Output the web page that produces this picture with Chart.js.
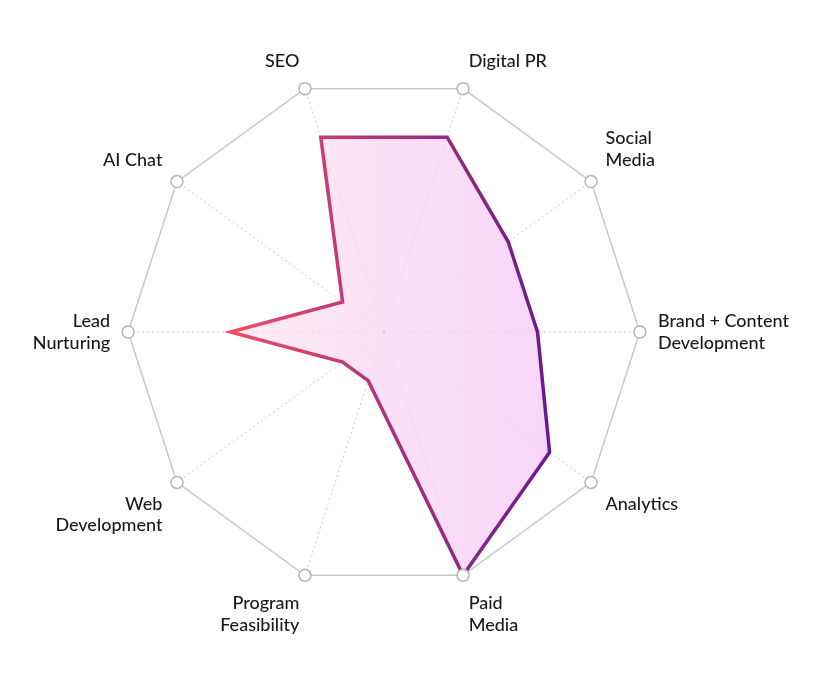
<!DOCTYPE html>
<html>
<head>
<meta charset="utf-8">
<script src="https://cdn.jsdelivr.net/npm/chart.js@4"></script>
<style>
  html, body { margin: 0; padding: 0; background: #fff; }
  #wrap { width: 840px; height: 688px; }
</style>
</head>
<body>
<div id="wrap"><canvas id="radar"></canvas></div>
<script>
// categories clockwise, starting from Digital PR
const categories = [
    'Digital PR',
    ['Social', 'Media'],
    ['Brand + Content', 'Development'],
    'Analytics',
    ['Paid', 'Media'],
    ['Program', 'Feasibility'],
    ['Web', 'Development'],
    ['Lead', 'Nurturing'],
    'AI Chat',
    'SEO'
];
const scores = [8, 6, 6, 8, 10, 2, 2, 6, 2, 8];
const scaleMax = 10;

// gradient helper: pink-red on the left, purple on the right
function sideGradient(chart, left, right) {
    const r = chart.scales.r;
    const cx = r ? r.xCenter : 400;
    const g = chart.ctx.createLinearGradient(cx - 160, 0, cx + 160, 0);
    g.addColorStop(0, left);
    g.addColorStop(1, right);
    return g;
}

// white dots on the outer vertices
const vertexDots = {
    id: 'vertexDots',
    afterDraw(chart) {
        const r = chart.scales.r;
        const ctx = chart.ctx;
        ctx.save();
        for (let i = 0; i < categories.length; i++) {
            const p = r.getPointPosition(i, r.getDistanceFromCenterForValue(scaleMax));
            ctx.beginPath();
            ctx.arc(p.x, p.y, 6, 0, Math.PI * 2);
            ctx.fillStyle = '#fff';
            ctx.fill();
            ctx.lineWidth = 1.5;
            ctx.strokeStyle = '#b5b5b5';
            ctx.stroke();
        }
        ctx.restore();
    }
};

new Chart(document.getElementById('radar'), {
    type: 'radar',
    data: {
        labels: categories,
        datasets: [{
            data: scores,
            borderWidth: 3.5,
            borderJoinStyle: 'miter',
            pointRadius: 0,
            fill: true,
            borderColor: c => c.chart.chartArea ? sideGradient(c.chart, '#f44c66', '#6a1a8e') : '#c03070',
            backgroundColor: c => c.chart.chartArea ? sideGradient(c.chart, 'rgba(255,228,236,0.7)', 'rgba(244,196,246,0.7)') : 'rgba(250,200,230,0.5)'
        }]
    },
    options: {
        responsive: true,
        maintainAspectRatio: false,
        animation: false,
        layout: { padding: { top: 25, bottom: 25, left: 6, right: 24 } },
        plugins: { legend: { display: false }, tooltip: { enabled: false } },
        scales: {
            r: {
                min: 0,
                max: scaleMax,
                startAngle: 18,
                ticks: { display: false, stepSize: 10 },
                grid: { color: '#c8c8c8', lineWidth: 1.5 },
                angleLines: { color: '#c8c8c8', borderDash: [2, 3], lineWidth: 1 },
                pointLabels: {
                    color: '#1a1a1a',
                    padding: 18,
                    font: { family: 'Lato', size: 18, weight: '500' }
                }
            }
        }
    },
    plugins: [vertexDots]
});
</script>
</body>
</html>
